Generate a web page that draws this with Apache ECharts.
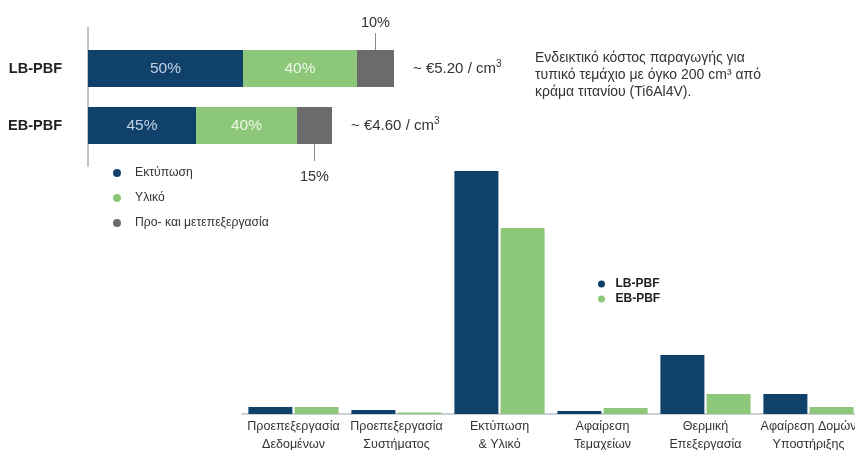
<!DOCTYPE html>
<html>
<head>
<meta charset="utf-8">
<script src="https://cdn.jsdelivr.net/npm/echarts@6/dist/echarts.min.js"></script>
<style>
  html, body { margin: 0; padding: 0; background: #fff; }
  #chart { width: 855px; height: 450px; }
</style>
</head>
<body>
<div id="chart"></div>
<script>
// top: cost split per process (segment lengths)
const procesos = ['LB-PBF', 'EB-PBF']
const ektyposi = [155, 108]
const yliko = [114, 101]
const meta = [37, 35]
const posostaEktyposi = ['50%', '45%']
const posostaYliko = ['40%', '40%']
const posostaMeta = ['10%', '15%']
const kostos = ['~ €5.20 / cm', '~ €4.60 / cm']

// bottom: time / effort per step
const vimata = [
    'Προεπεξεργασία\nΔεδομένων',
    'Προεπεξεργασία\nΣυστήματος',
    'Εκτύπωση\n& Υλικό',
    'Αφαίρεση\nΤεμαχείων',
    'Θερμική\nΕπεξεργασία',
    'Αφαίρεση Δομών\nΥποστήριξης'
]
const lbPbf = [7, 4, 243, 3, 59, 20]
const ebPbf = [7, 1.5, 186, 6, 20, 7]

const BLUE = '#0f416b'
const GREEN = '#8dc77a'
const GREY = '#6b6b6b'
const FONT = '"Liberation Sans", Arial, sans-serif'

let myChart = echarts.init(document.getElementById('chart'), null, {
    renderer: 'canvas'
})

function seg(values, labels, color, textColor, name) {
    return {
        name: name,
        type: 'bar',
        stack: 'kostos',
        xAxisIndex: 0,
        yAxisIndex: 0,
        barWidth: 37,
        itemStyle: { color: color },
        label: {
            show: true,
            position: 'inside',
            color: textColor,
            fontSize: 15.5,
            fontFamily: FONT,
            formatter: p => labels[p.dataIndex]
        },
        data: values
    }
}

let metaSeries = seg(meta, posostaMeta, GREY, '#333', 'Προ- και μετεπεξεργασία')
metaSeries.label = {
    show: true,
    fontFamily: FONT,
    color: '#333',
    fontSize: 14.5
}
metaSeries.data = meta.map((v, i) => ({
    value: v,
    label: i === 0
        ? { position: 'top', distance: 0, formatter: '{p|' + posostaMeta[i] + '}\n{l| }' }
        : { position: 'bottom', distance: 0, formatter: '{l| }\n{q|' + posostaMeta[i] + '}' }
}))
metaSeries.label.rich = {
    p: { fontSize: 14.5, color: '#333', fontFamily: FONT, lineHeight: 20 },
    q: { fontSize: 14.5, color: '#333', fontFamily: FONT, lineHeight: 32 },
    l: { width: 1, height: 17, lineHeight: 17, fontSize: 1, backgroundColor: '#888' }
}

myChart.setOption({
    animation: false,
    textStyle: { fontFamily: FONT },
    grid: [
        { left: 88, width: 306, top: 40, height: 114, outerBoundsMode: 'none', containLabel: false },
        { left: 242, width: 618, top: 164, bottom: 36, outerBoundsMode: 'none', containLabel: false }
    ],
    legend: [
        {
            data: ['Εκτύπωση', 'Υλικό', 'Προ- και μετεπεξεργασία'],
            orient: 'vertical',
            left: 108,
            top: 162,
            icon: 'circle',
            itemWidth: 26,
            itemHeight: 8,
            itemGap: 13,
            textStyle: { fontSize: 12.2, color: '#333', fontFamily: FONT }
        },
        {
            data: ['LB-PBF', 'EB-PBF'],
            orient: 'vertical',
            left: 593,
            top: 273,
            icon: 'circle',
            itemWidth: 18,
            itemHeight: 7,
            itemGap: 3,
            textStyle: { fontSize: 12, fontWeight: 'bold', color: '#222', fontFamily: FONT }
        }
    ],
    xAxis: [
        { gridIndex: 0, type: 'value', min: 0, max: 306, show: false },
        {
            gridIndex: 1,
            type: 'category',
            data: vimata,
            axisTick: { show: false },
            axisLine: { lineStyle: { color: '#b9c3cb', width: 1.5 } },
            axisLabel: {
                interval: 0,
                margin: 4,
                fontSize: 12.5,
                lineHeight: 18,
                color: '#333',
                fontFamily: FONT
            }
        }
    ],
    yAxis: [
        {
            gridIndex: 0,
            type: 'category',
            inverse: true,
            data: procesos,
            axisLine: { show: false },
            axisTick: { show: false },
            axisLabel: {
                margin: 26,
                fontSize: 14.5,
                fontWeight: 'bold',
                color: '#222',
                fontFamily: FONT
            }
        },
        { gridIndex: 1, type: 'value', min: 0, max: 250, show: false }
    ],
    graphic: [
        {
            type: 'line',
            shape: { x1: 88, y1: 27, x2: 88, y2: 167 },
            style: { stroke: '#888', lineWidth: 1 }
        },
        {
            type: 'text',
            left: 535,
            top: 50,
            style: {
                text: 'Ενδεικτικό κόστος παραγωγής για\nτυπικό τεμάχιο με όγκο 200 cm³ από\nκράμα τιτανίου (Ti6Al4V).',
                font: '14px ' + FONT,
                lineHeight: 17,
                fill: '#333'
            }
        }
    ],
    series: [
        seg(ektyposi, posostaEktyposi, BLUE, '#c3d2e2', 'Εκτύπωση'),
        seg(yliko, posostaYliko, GREEN, '#eef7e8', 'Υλικό'),
        metaSeries,
        {
            name: 'kostos',
            type: 'bar',
            stack: 'kostos',
            xAxisIndex: 0,
            yAxisIndex: 0,
            barWidth: 37,
            itemStyle: { color: 'transparent' },
            label: {
                show: true,
                position: 'right',
                distance: 19,
                fontSize: 15,
                color: '#333',
                fontFamily: FONT,
                formatter: p => kostos[p.dataIndex] + '{s|3}',
                rich: {
                    s: { fontSize: 10, color: '#333', fontFamily: FONT, padding: [0, 0, 8, 0] }
                }
            },
            data: [0, 0]
        },
        {
            name: 'LB-PBF',
            type: 'bar',
            xAxisIndex: 1,
            yAxisIndex: 1,
            barWidth: 44,
            barGap: '5%',
            itemStyle: { color: BLUE },
            data: lbPbf
        },
        {
            name: 'EB-PBF',
            type: 'bar',
            xAxisIndex: 1,
            yAxisIndex: 1,
            barWidth: 44,
            itemStyle: { color: GREEN },
            data: ebPbf
        }
    ]
})

window.addEventListener('resize', () => {
    myChart.resize()
})
</script>
</body>
</html>
